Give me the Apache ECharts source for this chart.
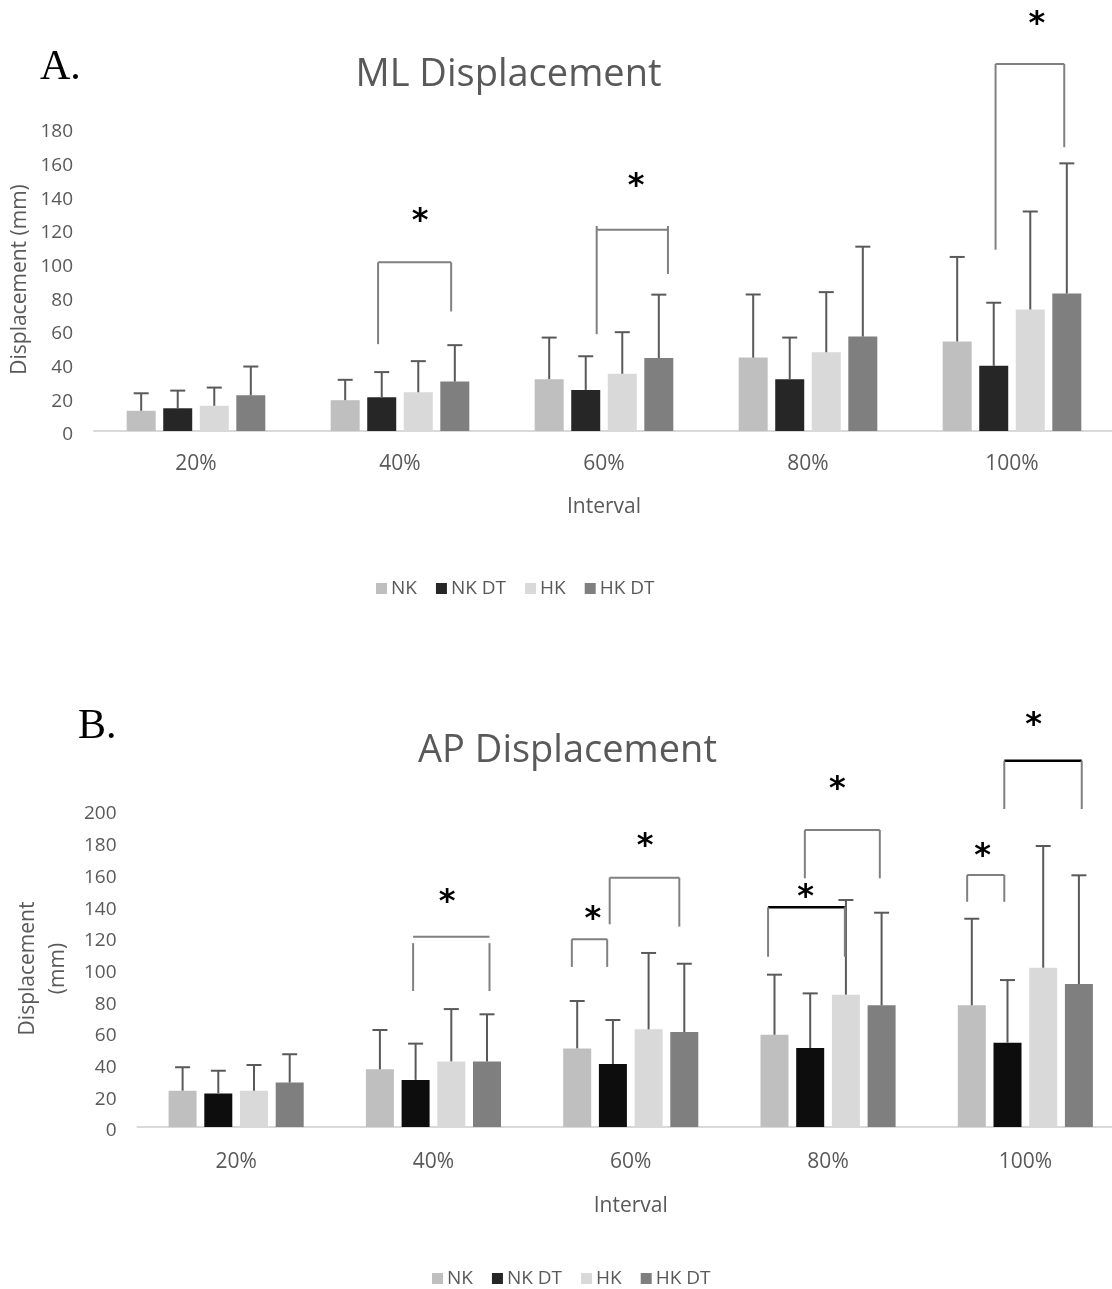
<!DOCTYPE html>
<html>
<head>
<meta charset="utf-8">
<script src="https://cdn.jsdelivr.net/npm/echarts@6/dist/echarts.min.js"></script>
<style>html,body{margin:0;padding:0;background:#fff;overflow:hidden}#c{width:1140px;height:1289px}</style>
</head>
<body>
<div id="c"></div>
<script>
// ---------- data ----------
const categories = ['20%', '40%', '60%', '80%', '100%'];
const seriesNames = ['NK', 'NK DT', 'HK', 'HK DT'];

// ML displacement (mm): means and SD (upper error bar)
const mlNK = [12, 18.3, 30.8, 43.6, 53.2];
const mlNKDT = [13.5, 20, 24.4, 30.8, 38.7];
const mlHK = [15, 23, 34, 46.8, 72.2];
const mlHKDT = [21.2, 29.4, 43.3, 56.1, 81.7];
const mlNKsd = [10.4, 12.1, 24.7, 37.5, 50.2];
const mlNKDTsd = [10.5, 15, 20, 24.7, 37.5];
const mlHKsd = [10.8, 18.5, 24.7, 35.7, 58.2];
const mlHKDTsd = [17.1, 21.6, 37.7, 53.4, 77.3];

// AP displacement (mm)
const apNK = [22.9, 36.4, 49.6, 58.2, 76.8];
const apNKDT = [21.2, 29.7, 39.7, 49.8, 53.2];
const apHK = [22.9, 41.4, 61.6, 83.5, 100.5];
const apHKDT = [28, 41.4, 59.9, 76.8, 90.2];
const apNKsd = [14.8, 24.8, 29.9, 37.9, 54.6];
const apNKDTsd = [14.3, 22.9, 27.8, 34.5, 39.5];
const apHKsd = [16.2, 33, 48.2, 59.7, 76.8];
const apHKDTsd = [17.9, 29.7, 43.1, 58.4, 68.6];

// significance brackets: [category, leftSlot, rightSlot, topValue, leftLegEnd, rightLegEnd, starSlot, starValue, legTopValue, blackTop]
const mlBrackets = [
  [1, 0.9, 2.9, 100.2, 51.6, 71, 2.05, 127.4, 100.2, 0],
  [2, 1.3, 3.25, 119.5, 57.5, 93.3, 2.38, 148.4, 121.8, 0],
  [4, 1.05, 2.93, 218, 107.7, 168.6, 2.18, 244.6, 218, 0]
];
const apBrackets = [
  [1, 0.93, 3.07, 120, 85.8, 85.8, 1.88, 144.9, 116, 0],
  [2, -0.15, 0.84, 118.4, 101, 101, 0.44, 133.8, 118.4, 0],
  [2, 0.91, 2.86, 157.3, 127.9, 126.4, 1.9, 180, 157.3, 0],
  [3, -0.18, 1.97, 138.6, 107.4, 107.4, 0.87, 148, 138.6, 1],
  [3, 0.85, 2.95, 187.4, 156.9, 156.9, 1.76, 215.8, 187.4, 0],
  [4, -0.13, 0.91, 159, 142.1, 142.1, 0.3, 173.7, 159, 0],
  [4, 0.91, 3.08, 231.1, 200.6, 200.6, 1.73, 256.3, 231.1, 1]
];

// ---------- styling ----------
const TXT = '#595959';
const FONT = 'Open Sans';
const colorsA = ['#bfbfbf', '#262626', '#d9d9d9', '#7f7f7f'];
const colorsB = ['#bfbfbf', '#0d0d0d', '#d9d9d9', '#7f7f7f'];
const barWA = 29, gapA = 0.26, barWB = 28, gapB = 0.275;
const stepA = barWA * (1 + gapA), stepB = barWB * (1 + gapB);

const mlMeans = [mlNK, mlNKDT, mlHK, mlHKDT];
const mlSds = [mlNKsd, mlNKDTsd, mlHKsd, mlHKDTsd];
const apMeans = [apNK, apNKDT, apHK, apHKDT];
const apSds = [apNKsd, apNKDTsd, apHKsd, apHKDTsd];

function errData(means, sds) {
  const out = [];
  means.forEach((m, i) => m.forEach((v, j) => out.push([j, v, sds[i][j], i])));
  return out;
}

function errRender(step) {
  return function (params, api) {
    const cat = api.value(0), mean = api.value(1), sd = api.value(2), s = api.value(3);
    const b = api.coord([cat, mean]);
    const t = api.coord([cat, mean + sd]);
    const x = b[0] + (s - 1.5) * step;
    const st = { stroke: '#595959', lineWidth: 2 };
    return {
      type: 'group',
      children: [
        { type: 'line', shape: { x1: x, y1: b[1], x2: x, y2: t[1] }, style: st },
        { type: 'line', shape: { x1: x - 7.5, y1: t[1], x2: x + 7.5, y2: t[1] }, style: st }
      ]
    };
  };
}

function brRender(step) {
  return function (params, api) {
    const cat = api.value(0);
    const c0 = api.coord([cat, 0])[0];
    const xL = c0 + (api.value(1) - 1.5) * step;
    const xR = c0 + (api.value(2) - 1.5) * step;
    const yT = api.coord([cat, api.value(3)])[1];
    const yLB = api.coord([cat, api.value(4)])[1];
    const yRB = api.coord([cat, api.value(5)])[1];
    const xs = c0 + (api.value(6) - 1.5) * step;
    const ys = api.coord([cat, api.value(7)])[1];
    const yLT = api.coord([cat, api.value(8)])[1];
    const black = api.value(9) === 1;
    const gray = { stroke: '#808080', lineWidth: 2 };
    const top = black ? { stroke: '#000', lineWidth: 2.5 } : gray;
    return {
      type: 'group',
      children: [
        { type: 'line', shape: { x1: xL, y1: yT, x2: xR, y2: yT }, style: top },
        { type: 'line', shape: { x1: xL, y1: yLT, x2: xL, y2: yLB }, style: gray },
        { type: 'line', shape: { x1: xR, y1: yLT, x2: xR, y2: yRB }, style: gray },
        { type: 'text', x: xs, y: ys + 5, style: { text: '*', fill: '#000', font: 'bold 32px "DejaVu Sans"', textAlign: 'center', textVerticalAlign: 'middle' } }
      ]
    };
  };
}

const series = [];
seriesNames.forEach((n, i) => {
  series.push({ name: n, type: 'bar', xAxisIndex: 0, yAxisIndex: 0, data: mlMeans[i], barWidth: barWA, barGap: (gapA * 100) + '%', itemStyle: { color: colorsA[i] }, silent: true });
});
seriesNames.forEach((n, i) => {
  series.push({ name: n, type: 'bar', xAxisIndex: 1, yAxisIndex: 1, data: apMeans[i], barWidth: barWB, barGap: (gapB * 100) + '%', itemStyle: { color: colorsB[i] }, silent: true });
});
series.push({ type: 'custom', name: 'errA', xAxisIndex: 0, yAxisIndex: 0, data: errData(mlMeans, mlSds), renderItem: errRender(stepA), z: 3, clip: false, silent: true });
series.push({ type: 'custom', name: 'errB', xAxisIndex: 1, yAxisIndex: 1, data: errData(apMeans, apSds), renderItem: errRender(stepB), z: 3, clip: false, silent: true });
series.push({ type: 'custom', name: 'brA', xAxisIndex: 0, yAxisIndex: 0, data: mlBrackets, renderItem: brRender(stepA), z: 4, clip: false, silent: true });
series.push({ type: 'custom', name: 'brB', xAxisIndex: 1, yAxisIndex: 1, data: apBrackets, renderItem: brRender(stepB), z: 4, clip: false, silent: true });

function xAx(gi, labelMargin, nameGap) {
  return {
    type: 'category', gridIndex: gi, data: categories,
    axisLine: { lineStyle: { color: '#d9d9d9', width: 2 } },
    axisTick: { show: false },
    axisLabel: { color: TXT, fontFamily: FONT, fontSize: 21, margin: labelMargin },
    name: 'Interval', nameLocation: 'middle', nameGap: nameGap,
    nameTextStyle: { color: TXT, fontFamily: FONT, fontSize: 21 }
  };
}
function yAx(gi, max, name, nameGap, lh, moveOverlap) {
  return {
    type: 'value', gridIndex: gi, min: 0, max: max, interval: 20,
    axisLine: { show: false }, axisTick: { show: false }, splitLine: { show: false },
    axisLabel: { color: TXT, fontFamily: FONT, fontSize: 19, margin: 21, verticalAlign: 'top', lineHeight: 8 },
    name: name, nameLocation: 'middle', nameGap: nameGap, nameRotate: 90, nameMoveOverlap: moveOverlap,
    nameTextStyle: { color: TXT, fontFamily: FONT, fontSize: 21, lineHeight: lh }
  };
}

const legendCommon = {
  data: seriesNames, icon: 'rect', itemWidth: 11, itemHeight: 11, itemGap: 19, padding: 0,
  textStyle: { color: TXT, fontFamily: FONT, fontSize: 19, padding: [0, 0, 0, -1] },
  selectedMode: false, orient: 'horizontal'
};

const option = {
  animation: false,
  backgroundColor: '#fff',
  grid: [
    { left: 94, top: 128, width: 1020, height: 303, outerBoundsMode: 'none', containLabel: false },
    { left: 137.5, top: 810, width: 986.5, height: 317, outerBoundsMode: 'none', containLabel: false }
  ],
  xAxis: [xAx(0, 23, 66), xAx(1, 25, 69)],
  yAxis: [yAx(0, 180, 'Displacement (mm)', 61, 26, false), yAx(1, 200, 'Displacement\n(mm)', 62, 30, true)],
  legend: [
    Object.assign({}, legendCommon, { left: 376, top: 579 }),
    Object.assign({}, legendCommon, { left: 432, top: 1269 })
  ],
  graphic: [
    { type: 'text', x: 40, y: 68, style: { text: 'A.', font: '42px "Liberation Serif"', fill: '#000', textVerticalAlign: 'middle' } },
    { type: 'text', x: 78, y: 727, style: { text: 'B.', font: '42px "Liberation Serif"', fill: '#000', textVerticalAlign: 'middle' } },
    { type: 'text', x: 508.5, y: 75, style: { text: 'ML Displacement', font: '38px "Open Sans"', fill: TXT, textAlign: 'center', textVerticalAlign: 'middle' } },
    { type: 'text', x: 567.5, y: 751, style: { text: 'AP Displacement', font: '38px "Open Sans"', fill: TXT, textAlign: 'center', textVerticalAlign: 'middle' } }
  ],
  series: series
};

const chart = echarts.init(document.getElementById('c'), null, { renderer: 'canvas' });
chart.setOption(option);
</script>
</body>
</html>
